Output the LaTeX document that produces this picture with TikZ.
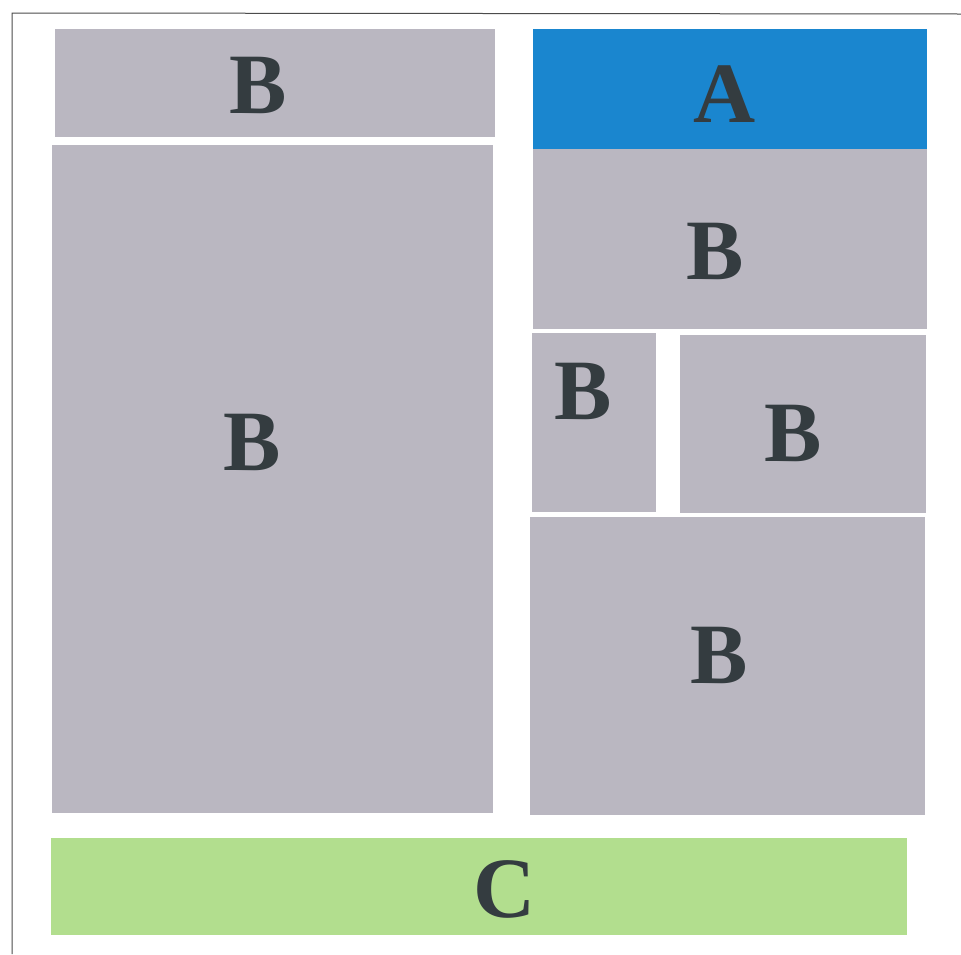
\documentclass[tikz,border=0pt]{standalone}
\usepackage{fontspec}
\newfontfamily\lettfont{Liberation Serif}[BoldFont={Liberation Serif Bold}]
\definecolor{boxgray}{HTML}{BAB7C1}
\definecolor{boxblue}{HTML}{1A86CF}
\definecolor{boxgreen}{HTML}{B2DE8E}
\definecolor{lettercol}{HTML}{343C40}
\tikzset{
  letter/.style={inner sep=0pt, anchor=center, text=lettercol,
    font=\lettfont\bfseries\fontsize{86}{86}\selectfont},
  frameline/.style={draw=black!70, line width=1pt}
}
\begin{document}
\begin{tikzpicture}[x=1pt,y=-1pt]
\useasboundingbox (0,0) rectangle (961,954);
\fill[white] (0,0) rectangle (961,954);
% frame
\coordinate (fbl) at (12,954);
\coordinate (ftl) at (12,13);
\coordinate (ftr) at (961,14);
\draw[frameline] (fbl) -- (ftl) -- (ftr);
% left column
\fill[boxgray] (55,29) rectangle (495,137);
\fill[boxgray] (52,145) rectangle (493,813);
% right column
\fill[boxblue] (533,29) rectangle (927,149);
\fill[boxgray] (533,149) rectangle (927,329);
\fill[boxgray] (532,333) rectangle (656,512);
\fill[boxgray] (680,335) rectangle (926,513);
\fill[boxgray] (530,517) rectangle (925,815);
% bottom bar
\fill[boxgreen] (51,838) rectangle (907,935);
% letters
\node[letter] (tlB) at (258,85) {B};
\node[letter] (lB) at (252,442) {B};
\node[letter] (rA) at (725,94) {A};
\node[letter] (rtB) at (715,251) {B};
\node[letter] (rsB) at (583,391) {B};
\node[letter] (rmB) at (793,433) {B};
\node[letter] (rbB) at (719,655) {B};
\node[letter] (bC) at (505,889) {C};
\end{tikzpicture}
\end{document}
